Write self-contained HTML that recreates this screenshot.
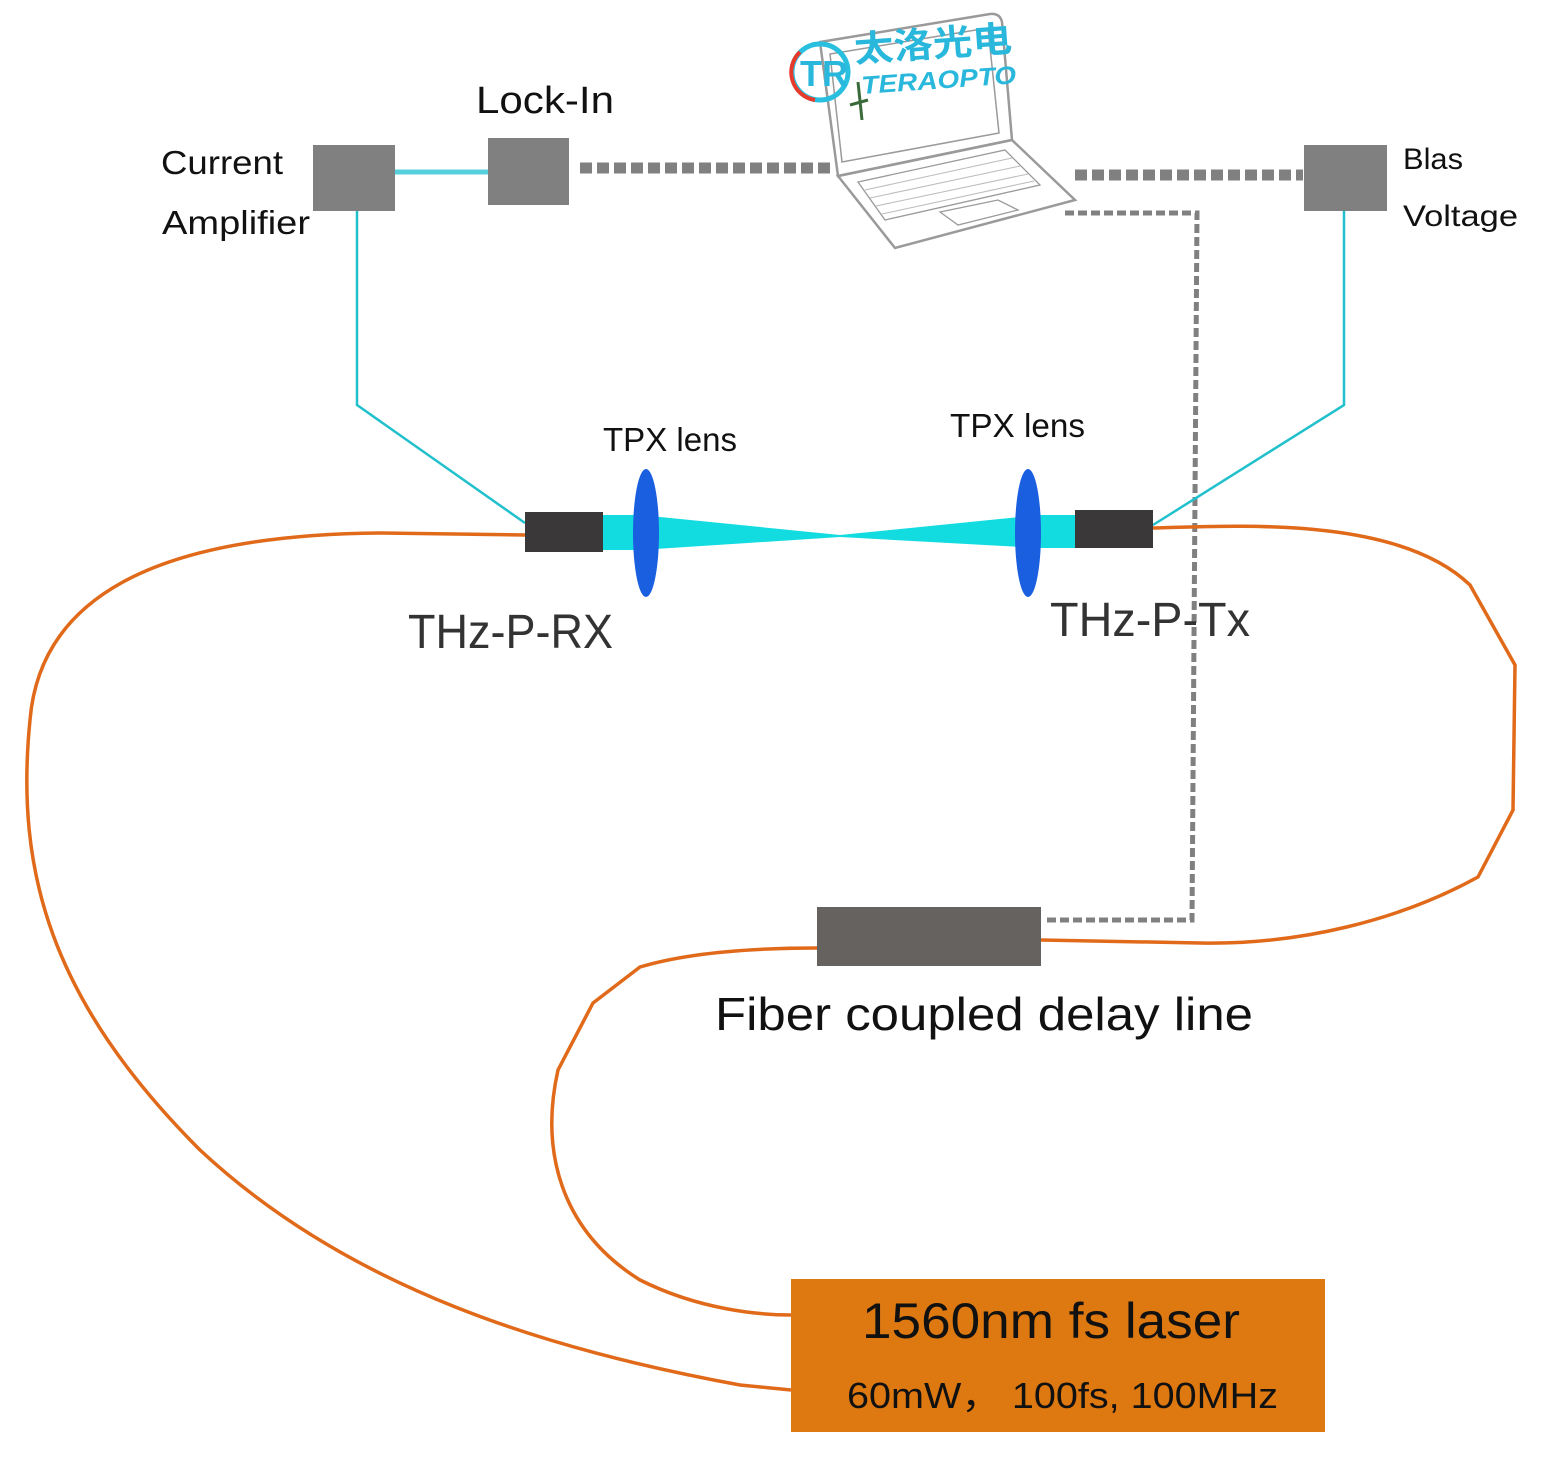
<!DOCTYPE html>
<html><head><meta charset="utf-8"><style>
html,body{margin:0;padding:0;background:#fff;}
svg{display:block;}
text{font-family:"Liberation Sans","Noto Sans CJK SC",sans-serif;fill:#111;}
</style></head><body>
<svg width="1550" height="1466" viewBox="0 0 1550 1466" xmlns="http://www.w3.org/2000/svg">
<line x1="580" y1="168" x2="832" y2="168" stroke="#808080" stroke-width="11" stroke-dasharray="12,5"/>
<line x1="1075" y1="175" x2="1303" y2="175" stroke="#808080" stroke-width="11" stroke-dasharray="12,5"/>
<polyline points="1065,213 1197,213 1192,920 1045,920" fill="none" stroke="#808080" stroke-width="5" stroke-dasharray="9,4"/>
<g fill="none" stroke="#9a9a9a" stroke-width="2.5">
<path d="M820,42 L990,14 Q1000,13 1002,22 L1012,140 L838,176 Z"/>
<path d="M830,54 L988,28 L999,133 L842,162 Z" stroke-width="1.5"/>
<path d="M838,176 L1012,140 L1075,200 L895,248 Z"/>
<path d="M858,182 L1005,150 L1040,185 L885,220 Z" stroke-width="1.3"/>
<path d="M940,212 L998,200 L1018,210 L958,225 Z" stroke-width="1.3"/>
</g>
<g stroke="#bbb" stroke-width="1">
<line x1="865" y1="190" x2="1012" y2="158"/><line x1="870" y1="198" x2="1020" y2="166"/><line x1="876" y1="206" x2="1028" y2="174"/><line x1="882" y1="214" x2="1034" y2="181"/>
</g>
<circle cx="820" cy="72" r="28" fill="none" stroke="#29c0e0" stroke-width="5"/>
<path d="M800,52 A28,28 0 0 0 815,100" fill="none" stroke="#e83a2a" stroke-width="4"/>
<text x="800" y="86" font-size="36" font-weight="bold" style="fill:#29b8dc">TR</text>
<text x="855" y="62" font-size="36" font-weight="bold" style="fill:#29b8dc" transform="rotate(-4 855 62)" textLength="158" lengthAdjust="spacingAndGlyphs">太洛光电</text>
<text x="862" y="94" font-size="25" font-weight="bold" font-style="italic" style="fill:#29b8dc" transform="rotate(-4 862 94)" textLength="155" lengthAdjust="spacingAndGlyphs">TERAOPTO</text>
<path d="M858,82 L862,120 M850,105 L868,100" stroke="#3a6a3a" stroke-width="3"/>
<line x1="395" y1="172" x2="488" y2="172" stroke="#56d0dc" stroke-width="5"/>
<polyline points="357,211 357,405 525,523" fill="none" stroke="#20c0cc" stroke-width="2.5"/>
<polyline points="1344,211 1344,405 1153,525" fill="none" stroke="#20c0cc" stroke-width="2.5"/>
<rect x="313" y="145" width="82" height="66" fill="#808080"/>
<rect x="488" y="138" width="81" height="67" fill="#808080"/>
<rect x="1304" y="145" width="83" height="66" fill="#808080"/>
<g fill="none" stroke="#e06a1a" stroke-width="3.5">
<path d="M525,535 L380,533 C150,535 40,600 30,720 C15,870 50,1000 200,1150 C350,1290 550,1350 740,1385 L791,1390"/>
<path d="M1153,528 C1250,525 1400,518 1470,585 L1515,665 L1513,810 L1478,877 C1400,920 1300,945 1200,943 L1041,940"/>
<path d="M817,948 C740,948 680,955 640,967 L593,1003 L558,1070 C540,1150 560,1230 640,1280 C700,1310 760,1315 791,1315"/>
</g>
<polygon points="603,515 640,515 840,535 1040,515 1075,515 1075,548 1040,548 840,537 640,550 603,550" fill="#12dce0"/>
<ellipse cx="646" cy="533" rx="13" ry="64" fill="#1a5fe0"/>
<ellipse cx="1028" cy="533" rx="13" ry="64" fill="#1a5fe0"/>
<rect x="525" y="512" width="78" height="40" fill="#3a3838"/>
<rect x="1075" y="510" width="78" height="38" fill="#3a3838"/>
<rect x="817" y="907" width="224" height="59" fill="#66625f"/>
<rect x="791" y="1279" width="534" height="153" fill="#de7810"/>
<text x="476" y="113" font-size="38" textLength="138" lengthAdjust="spacingAndGlyphs">Lock-In</text>
<text x="161" y="174" font-size="33" textLength="122" lengthAdjust="spacingAndGlyphs">Current</text>
<text x="162" y="234" font-size="33" textLength="148" lengthAdjust="spacingAndGlyphs">Amplifier</text>
<text x="1403" y="169" font-size="30" textLength="60" lengthAdjust="spacingAndGlyphs">Blas</text>
<text x="1403" y="226" font-size="30" textLength="115" lengthAdjust="spacingAndGlyphs">Voltage</text>
<text x="603" y="451" font-size="33" textLength="134" lengthAdjust="spacingAndGlyphs">TPX lens</text>
<text x="950" y="437" font-size="33" textLength="135" lengthAdjust="spacingAndGlyphs">TPX lens</text>
<text x="408" y="648" font-size="48" style="fill:#333" textLength="205" lengthAdjust="spacingAndGlyphs">THz-P-RX</text>
<text x="1050" y="636" font-size="48" style="fill:#333" textLength="200" lengthAdjust="spacingAndGlyphs">THz-P-Tx</text>
<text x="715" y="1030" font-size="46" textLength="538" lengthAdjust="spacingAndGlyphs">Fiber coupled delay line</text>
<text x="862" y="1338" font-size="50" textLength="378" lengthAdjust="spacingAndGlyphs">1560nm fs laser</text>
<text x="847" y="1408" font-size="36" textLength="431" lengthAdjust="spacingAndGlyphs">60mW，  100fs, 100MHz</text>
</svg>
</body></html>
